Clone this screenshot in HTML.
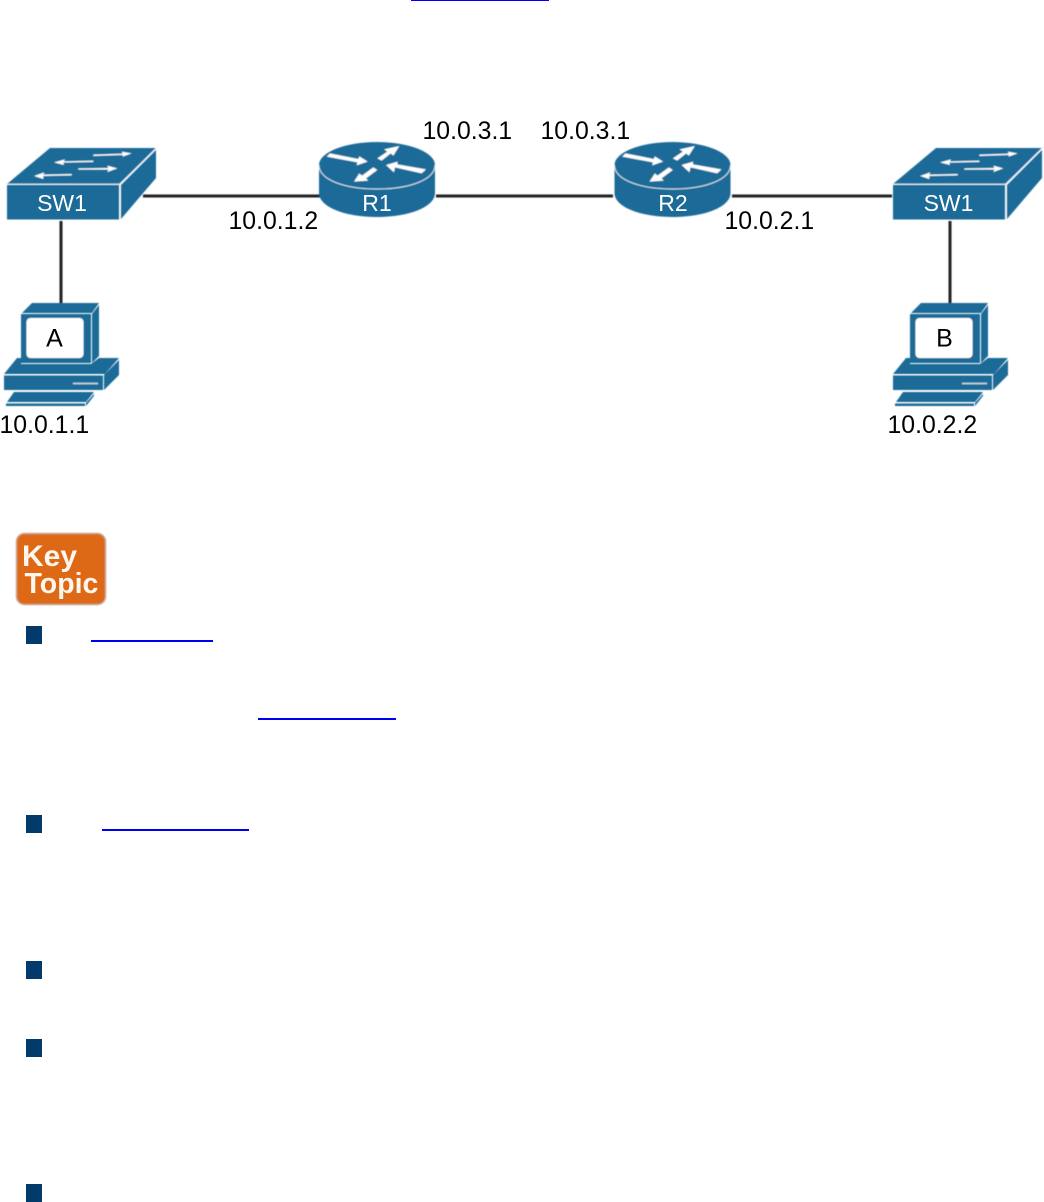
<!DOCTYPE html>
<html>
<head>
<meta charset="utf-8">
<title>Network diagram</title>
<style>
html,body{margin:0;padding:0;background:#fff;width:1044px;height:1202px;overflow:hidden}
svg{display:block;font-family:"Liberation Sans",Arial,sans-serif}
</style>
</head>
<body>
<svg width="1044" height="1202" viewBox="0 0 1044 1202" xmlns="http://www.w3.org/2000/svg">
<defs>
<filter id="b" x="-5%" y="-5%" width="110%" height="110%"><feGaussianBlur stdDeviation="0.45"/></filter>
<filter id="t" x="-5%" y="-5%" width="110%" height="110%"><feGaussianBlur stdDeviation="0.25"/></filter>
<g id="sw">
<path d="M7 184L50 148H156L119 184Z" fill="#1d6a97"/>
<path d="M7 185H119V219.500H7Z" fill="#1d6a97"/>
<path d="M121 185L156 150V178L121 219Z" fill="#1d6a97"/>
<path d="M6 184H120L156 148M120 184V220" fill="none" stroke="#cfe0ea" stroke-width="0.7"/>
<g fill="#fff" transform="translate(0,130) scale(0.33333)">
<path d="M280 74L368 71L365 65L395 70L368 80L368 75L280 78Z"/>
<path d="M280 92L192 94L195 88L162 97L192 105L190 98L280 96Z"/>
<path d="M235 115L325 114L322 107L352 115L322 126L325 119L235 119Z"/>
<path d="M215 132L130 134L133 127L102 138L130 147L130 138L215 136Z"/>
</g>
</g>
<g id="rt">
<path d="M-58 23V51C-58 65 -32 75 0 75C32 75 58 65 58 51V23Z" fill="#1d6a97"/>
<ellipse cx="0" cy="23" rx="58" ry="23" fill="#1d6a97"/>
<path d="M-58 23C-58 38 -32 47 0 47C32 47 58 38 58 23" fill="none" stroke="#d5e4ed" stroke-width="1"/>
<g fill="#fff" transform="translate(-77,-32) scale(0.33333)">
<path d="M80 140L90 130L175 147L178 139L203 155L170 166L172 157Z"/>
<path d="M232 145L262 125L252 118L298 108L280 137L272 130L245 152Z"/>
<path d="M378 178L365 190L285 172L282 187L258 165L293 155L292 163Z"/>
<path d="M220 172L232 180L198 205L205 212L162 215L178 190L186 197Z"/>
</g>
</g>
<g id="pc">
<path d="M22 313L32 303H99L92 313Z" fill="#1d6a97"/>
<path d="M21 314H91V363H21Z" fill="#1d6a97"/>
<path d="M92 314L99 305V356L92 363Z" fill="#1d6a97"/>
<rect x="26.500" y="318" width="57" height="40" rx="4" fill="#fff"/>
<path d="M4 374L17 358H21V364H91L99 358H119L105 374Z" fill="#1d6a97"/>
<path d="M4 375.500H103V390H4Z" fill="#1d6a97"/>
<path d="M104 375L119 360V375L104 390Z" fill="#1d6a97"/>
<path d="M73 383.500H98" stroke="#cfe0ea" stroke-width="1.400"/>
<path d="M7 402L14 392H94L86 402Z" fill="#1d6a97"/>
<path d="M6 403.500H85V406H6Z" fill="#1d6a97"/>
<path d="M86 403L94 394V396L86 406Z" fill="#1d6a97"/>
</g>
</defs>

<g filter="url(#b)">
<g stroke="#222" stroke-width="3" fill="none">
<path d="M143 196H320"/>
<path d="M436 196H613"/>
<path d="M732 196H892"/>
<path d="M61 221V303"/>
<path d="M950 221V303"/>
</g>
<use href="#sw"/>
<use href="#sw" transform="translate(886,0)"/>
<use href="#rt" transform="translate(377,142)"/>
<use href="#rt" transform="translate(672.500,142)"/>
<use href="#pc"/>
<use href="#pc" transform="translate(889,0)"/>
<rect x="16.500" y="533.500" width="89" height="71" rx="8" fill="#dd6816" stroke="#c9a78f" stroke-width="1.500"/>
</g>

<g filter="url(#t)">
<g fill="#fff" font-size="23" text-anchor="middle">
<text x="62" y="211">SW1</text>
<text x="948.500" y="211">SW1</text>
<text x="377" y="211">R1</text>
<text x="673" y="211">R2</text>
</g>
<g fill="#000" font-size="25" text-anchor="middle">
<text x="54.500" y="346.500">A</text>
<text x="944.500" y="346.500">B</text>
</g>
<g fill="#000" font-size="24.800">
<text x="422.500" y="139">10.0.3.1</text>
<text x="540.500" y="139">10.0.3.1</text>
<text x="228.500" y="229">10.0.1.2</text>
<text x="724.500" y="229">10.0.2.1</text>
<text x="-0.500" y="433">10.0.1.1</text>
<text x="887.500" y="433">10.0.2.2</text>
</g>
<g fill="#fff6ee" font-weight="bold">
<text x="22" y="566" font-size="30">Key</text>
<text x="24.500" y="593" font-size="28.500">Topic</text>
</g>
</g>

<g fill="#0000f0">
<rect x="411" y="0" width="138" height="1"/>
<rect x="91" y="640" width="122" height="2"/>
<rect x="258" y="718" width="138" height="2"/>
<rect x="102" y="829" width="147" height="2"/>
</g>
<g fill="#023a6b">
<rect x="26" y="626" width="16" height="18"/>
<rect x="26" y="815" width="16" height="18"/>
<rect x="26" y="961" width="16" height="18"/>
<rect x="26" y="1039" width="16" height="18"/>
<rect x="26" y="1184" width="16" height="18"/>
</g>
</svg>
</body>
</html>
